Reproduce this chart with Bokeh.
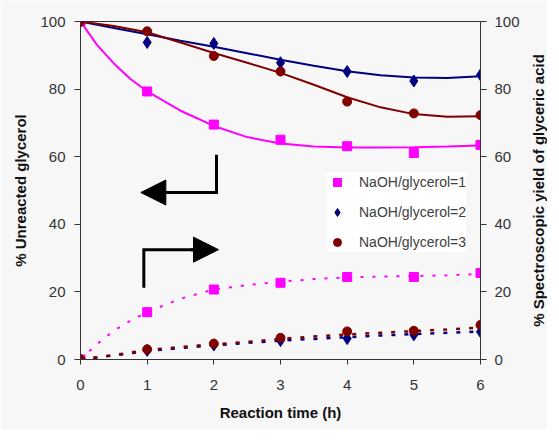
from bokeh.plotting import figure
from bokeh.layouts import row
from bokeh.models import (Range1d, LinearAxis, Legend, LegendItem, Arrow,
                          NormalHead, FixedTicker, Title)
from bokeh.embed import file_html
from bokeh.resources import INLINE

# ---- data ----
time_h = [0, 1, 2, 3, 4, 5, 6]
unreacted_r1 = [100, 79.3, 69.5, 65.0, 63.1, 61.1, 63.5]
unreacted_r2 = [100, 93.8, 93.5, 87.8, 85.2, 82.4, 84.2]
unreacted_r3 = [100, 97.1, 89.8, 85.2, 76.3, 72.8, 72.3]
yield_r1 = [0, 14.0, 20.7, 22.7, 24.4, 24.4, 25.6]
yield_r2 = [0, 2.7, 4.3, 5.6, 6.2, 7.3, 8.2]
yield_r3 = [0, 3.0, 4.7, 6.4, 8.3, 8.5, 10.2]

# trend lines
trend_t1 = [0, 0.25, 0.5, 0.75, 1, 1.5, 2, 2.5, 3, 3.5, 4, 4.5, 5, 5.5, 6]
trend_unreacted_r1 = [100, 93.0, 87.6, 83.0, 79.3, 73.6, 69.1, 65.8, 63.9, 63.0, 62.7, 62.7, 62.8, 63.0, 63.3]
trend_yield_r1 = [0, 4.6, 8.5, 11.5, 14.0, 18.0, 20.7, 22.0, 23.0, 23.8, 24.3, 24.5, 24.7, 24.9, 25.3]
trend_t = [0, 0.5, 1, 1.5, 2, 2.5, 3, 3.5, 4, 4.5, 5, 5.5, 6]
trend_unreacted_r2 = [100, 98.1, 96.2, 94.3, 92.5, 90.6, 88.7, 86.9, 85.3, 84.1, 83.4, 83.3, 83.8]
trend_unreacted_r3 = [100, 98.7, 96.8, 93.8, 90.7, 87.8, 84.8, 81.3, 77.6, 74.6, 72.6, 71.8, 72.0]
trend_yield_r2 = [0, 1.2, 2.5, 3.4, 4.2, 4.9, 5.6, 6.1, 6.6, 7.1, 7.5, 7.9, 8.3]
trend_yield_r3 = [0, 1.3, 2.8, 3.7, 4.5, 5.2, 6.1, 6.8, 7.4, 7.9, 8.4, 8.9, 9.4]

series_labels = ["NaOH/glycerol=1", "NaOH/glycerol=2", "NaOH/glycerol=3"]
x_ticks = [0, 1, 2, 3, 4, 5, 6]
y_ticks = [0, 20, 40, 60, 80, 100]
x_title = "Reaction time (h)"
left_title = "% Unreacted glycerol"
right_title = "% Spectroscopic yield of glyceric acid"

MAGENTA = "#FF00FF"
NAVY = "#000080"
DARKRED = "#800000"
BG = "#F7F7F7"
FONT = "Liberation Sans"

p = figure(width=522, height=429, output_backend="svg", toolbar_location=None,
           x_range=Range1d(0, 6), y_range=Range1d(0, 100),
           min_border_left=80, min_border_right=40, min_border_top=21,
           min_border_bottom=70)
p.extra_y_ranges = {"yield": Range1d(0, 100)}
p.background_fill_color = BG
p.border_fill_color = BG
p.outline_line_color = "#333333"
p.grid.visible = False


def style_axis(ax, ticks, tick_out, standoff, label_standoff):
    ax.ticker = FixedTicker(ticks=ticks)
    ax.major_tick_in = 0
    ax.major_tick_out = tick_out
    ax.minor_tick_line_color = None
    ax.axis_line_color = "#333333"
    ax.major_tick_line_color = "#333333"
    ax.major_label_text_font = FONT
    ax.major_label_text_font_size = "15px"
    ax.major_label_text_color = "#333333"
    ax.major_label_standoff = standoff
    ax.axis_label_text_font = FONT
    ax.axis_label_text_font_size = "15px"
    ax.axis_label_text_font_style = "bold"
    ax.axis_label_text_color = "#111111"
    ax.axis_label_standoff = label_standoff


style_axis(p.xaxis[0], x_ticks, 5, 15, 11)
p.xaxis[0].axis_label = x_title
style_axis(p.yaxis[0], y_ticks, 6, 9, 8)
p.yaxis[0].axis_label = left_title

right = LinearAxis(y_range_name="yield")
style_axis(right, y_ticks, 6, 8, 7)
p.add_layout(right, "right")

# trend lines
p.line(trend_t1, trend_unreacted_r1, line_color=MAGENTA, line_width=2)
p.line(trend_t, trend_unreacted_r2, line_color=NAVY, line_width=2)
p.line(trend_t, trend_unreacted_r3, line_color=DARKRED, line_width=2)
p.line(trend_t1, trend_yield_r1, line_color=MAGENTA, line_width=2, line_dash="3 9",
       y_range_name="yield")
p.line(trend_t, trend_yield_r2, line_color=NAVY, line_width=2.5, line_dash="4 9",
       y_range_name="yield")
p.line(trend_t, trend_yield_r3, line_color=DARKRED, line_width=2.5, line_dash="4 9",
       y_range_name="yield")

# markers
r1 = p.scatter(time_h, unreacted_r1, marker="square", size=9, color=MAGENTA)
r2 = p.scatter(time_h, unreacted_r2, marker="diamond", size=12, color=NAVY)
r3 = p.scatter(time_h, unreacted_r3, marker="circle", size=9, color=DARKRED)
p.scatter(time_h, yield_r1, marker="square", size=9, color=MAGENTA, y_range_name="yield")
p.scatter(time_h, yield_r2, marker="diamond", size=12, color=NAVY, y_range_name="yield")
p.scatter(time_h, yield_r3, marker="circle", size=9, color=DARKRED, y_range_name="yield")

# arrows indicating which axis each set belongs to
p.multi_line(xs=[[2.04, 2.04, 1.25], [0.95, 0.95, 1.7]],
             ys=[[60.6, 49.4, 49.4], [21.2, 32.5, 32.5]],
             line_color="black", line_width=3, line_join="miter")
p.add_layout(Arrow(end=NormalHead(size=25, fill_color="black", line_color="black"),
                   x_start=1.3, y_start=49.4, x_end=0.905, y_end=49.4,
                   line_width=3, line_color="black"))
p.add_layout(Arrow(end=NormalHead(size=25, fill_color="black", line_color="black"),
                   x_start=1.65, y_start=32.5, x_end=2.07, y_end=32.5,
                   line_width=3, line_color="black"))

legend = Legend(items=[LegendItem(label=series_labels[0], renderers=[r1]),
                       LegendItem(label=series_labels[1], renderers=[r2]),
                       LegendItem(label=series_labels[2], renderers=[r3])],
                location=(247, 107))
legend.background_fill_color = "white"
legend.background_fill_alpha = 1
legend.border_line_color = None
legend.padding = 4
legend.spacing = 10
legend.margin = 0
legend.label_standoff = 12
legend.glyph_width = 20
legend.glyph_height = 20
legend.label_height = 20
legend.label_text_font = FONT
legend.label_text_font_size = "14px"
legend.label_text_color = "#404040"
p.add_layout(legend)

# narrow strip carrying the right-hand axis title (reads bottom to top)
p2 = figure(width=25, height=429, output_backend="svg", toolbar_location=None,
            title=None, x_axis_location=None, y_axis_location=None,
            min_border_left=24, min_border_right=0, min_border_top=21,
            min_border_bottom=70)
p2.background_fill_color = BG
p2.border_fill_color = BG
p2.outline_line_color = None
p2.grid.visible = False
p2.add_layout(Title(text=right_title, align="center", standoff=0, offset=0,
                    text_font=FONT, text_font_size="15px", text_font_style="bold",
                    text_color="#111111"), "left")

layout = row(p, p2, spacing=0)
open("out.html", "w").write(file_html(layout, INLINE))
